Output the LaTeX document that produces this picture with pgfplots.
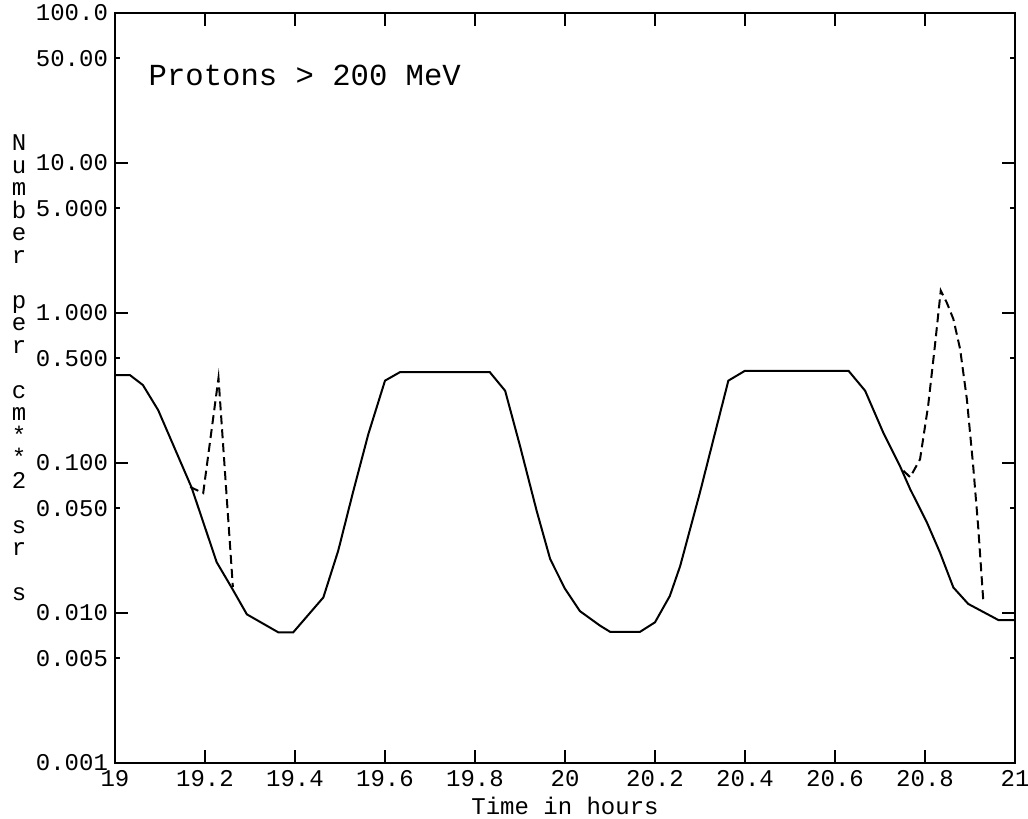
\documentclass[border=0pt]{standalone}
\usepackage{pgfplots}
\pgfplotsset{compat=1.18}
\usepackage{fontspec}
\setmainfont{Liberation Mono}

\begin{document}
\begin{tikzpicture}
\begin{axis}[
  scale only axis, width=450pt, height=375pt,
  xmin=19, xmax=21, ymode=log, ymin=0.001, ymax=100,
  axis line style={line width=1pt},
  tick align=inside, xtick pos=both, ytick pos=both,
  xtick={19,19.2,19.4,19.6,19.8,20,20.2,20.4,20.6,20.8,21},
  xticklabels={19,19.2,19.4,19.6,19.8,20,20.2,20.4,20.6,20.8,21},
  ytick={0.001,0.01,0.1,1,10,100},
  yticklabels={0.001,0.010,0.100,1.000,10.00,100.0},
  extra y ticks={0.005,0.05,0.5,5,50},
  extra y tick labels={0.005,0.050,0.500,5.000,50.00},
  extra y tick style={major tick length=2.5pt},
  yminorticks=false,
  major tick length=6.5pt,
  tick style={line width=1pt, black},
  tick label style={font=\fontsize{12}{14}\selectfont},
  xlabel={Time in hours},
  xlabel style={font=\fontsize{12}{14}\selectfont, yshift=1.5pt},
]
% solid: flux
\addplot[black, line width=1pt] coordinates {
  (19.000,0.386) (19.033,0.386) (19.062,0.331) (19.096,0.225)
  (19.170,0.0689) (19.226,0.0218) (19.259,0.0148) (19.293,0.0098)
  (19.363,0.00743) (19.396,0.00743) (19.463,0.0127) (19.496,0.026)
  (19.529,0.064) (19.563,0.156) (19.600,0.354) (19.633,0.403)
  (19.833,0.403) (19.867,0.303) (19.900,0.130) (19.937,0.048)
  (19.967,0.0229) (20.000,0.0145) (20.033,0.0103) (20.078,0.00823)
  (20.100,0.0075) (20.167,0.0075) (20.200,0.00867) (20.233,0.013)
  (20.256,0.0206) (20.300,0.0638) (20.330,0.1445) (20.363,0.354)
  (20.400,0.412) (20.630,0.412) (20.667,0.303) (20.707,0.160)
  (20.744,0.096) (20.767,0.067) (20.804,0.0403) (20.833,0.0254)
  (20.863,0.0148) (20.896,0.0115) (20.963,0.00898) (21.000,0.00898)
};
% dashed spikes
\addplot[black, line width=1pt, dash pattern=on 4.5pt off 2.5pt] coordinates {
  (19.167,0.0692) (19.196,0.063) (19.230,0.369) (19.262,0.0149)
};
\addplot[black, line width=1pt, dash pattern=on 4.5pt off 2.5pt] coordinates {
  (20.752,0.0889) (20.767,0.0804) (20.789,0.106) (20.807,0.241)
  (20.822,0.605) (20.835,1.41) (20.848,1.18) (20.863,0.912)
  (20.878,0.575) (20.893,0.267) (20.907,0.096) (20.918,0.0382)
  (20.930,0.0115)
};
\node[anchor=west, inner sep=0pt, font=\fontsize{15.3}{18}\selectfont]
  at (rel axis cs:0.037,0.917) {Protons > 200 MeV};
\end{axis}
\node[align=center, inner sep=0pt, font=\fontsize{12}{11.25}\selectfont]
  at ([shift={(-48pt,10pt)}]current axis.west)
  {N\\u\\m\\b\\e\\r\\[11.25pt]p\\e\\r\\[11.25pt]c\\m\\{*}\\{*}\\2\\[11.25pt]s\\r\\[11.25pt]s};
\pgfresetboundingbox
\path (current axis.south west) ++(-57.5pt,-28pt)
  rectangle ([shift={(6.5pt,6.5pt)}]current axis.north east);
\end{tikzpicture}
\end{document}
